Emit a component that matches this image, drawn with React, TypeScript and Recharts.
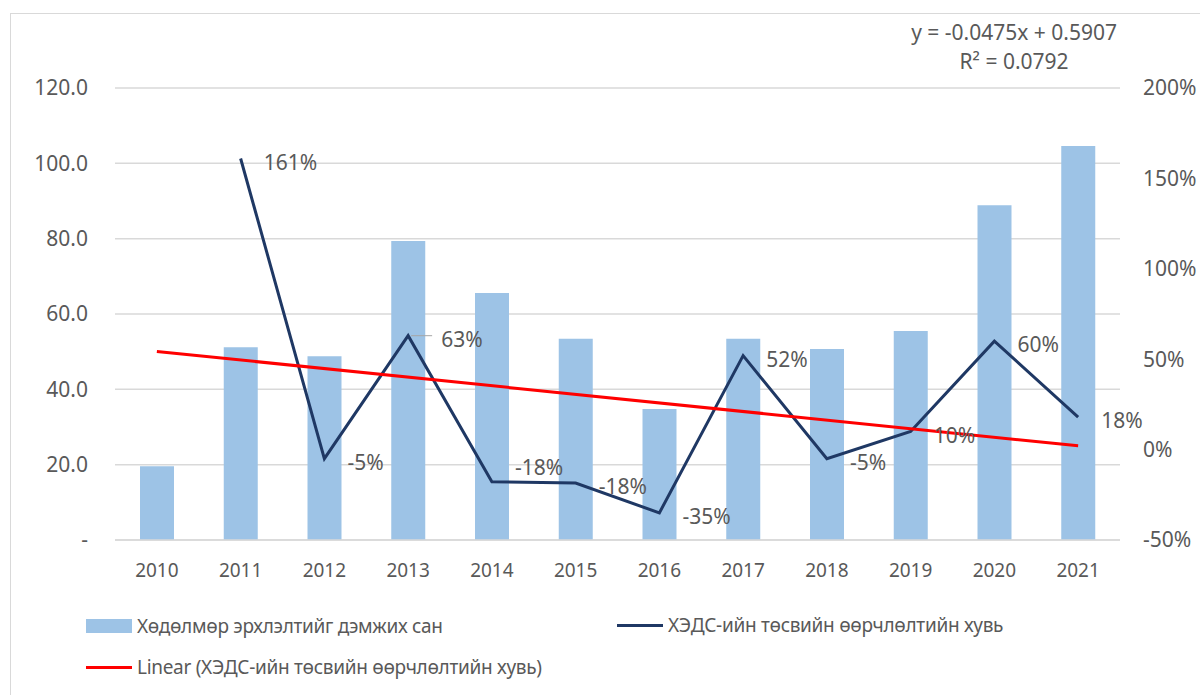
import React from "react";
import {
  ComposedChart,
  Bar,
  Line,
  XAxis,
  YAxis,
  CartesianGrid,
  LabelList,
} from "recharts";

const years = ["2010", "2011", "2012", "2013", "2014", "2015", "2016", "2017", "2018", "2019", "2020", "2021"];
const fundValues = [19.6, 51.2, 48.8, 79.4, 65.6, 53.4, 34.8, 53.4, 50.7, 55.5, 88.9, 104.6];
const changeValues: (number | null)[] = [null, 1.61, -0.05, 0.63, -0.178, -0.185, -0.35, 0.52, -0.05, 0.1, 0.6, 0.18];
const trendValues: (number | null)[] = [0.543, null, null, null, null, null, null, null, null, null, null, 0.021];
const leftTicks = [0, 20, 40, 60, 80, 100, 120];
const rightTicks = [-0.5, 0, 0.5, 1, 1.5, 2];

const fundName = "Хөдөлмөр эрхлэлтийг дэмжих сан";
const changeName = "ХЭДС-ийн төсвийн өөрчлөлтийн хувь";
const trendName = "Linear (ХЭДС-ийн төсвийн өөрчлөлтийн хувь)";
const equationText = "y = -0.0475x + 0.5907";
const r2Text = "R² = 0.0792";

const data = years.map((y, i) => ({
  year: y,
  fund: fundValues[i],
  change: changeValues[i],
  trend: trendValues[i],
}));

const FONT = "'Noto Sans', 'DejaVu Sans', sans-serif";
const TEXT = "#595959";
const BAR = "#9dc3e6";
const NAVY = "#1f3864";
const RED = "#ff0000";
const NUM_SIZE = 21;

const ChangeLabel = (props: any) => {
  const { x, y, value, index } = props;
  if (value == null) return null;
  let dx = 23;
  let dy = 3;
  let leader = false;
  if (index === 3) {
    dx = 33;
    leader = true;
  }
  if (index === 4) {
    dy = -15;
  }
  return (
    <g>
      {leader && <line x1={x + 3} y1={y} x2={x + 24} y2={y} stroke="#a6a6a6" strokeWidth={1} />}
      <text
        x={x + dx}
        y={y + dy}
        fill={TEXT}
        fontSize={NUM_SIZE}
        fontFamily={FONT}
        dominantBaseline="central"
        textAnchor="start"
      >
        {Math.round(value * 100) + "%"}
      </text>
    </g>
  );
};

const legendRow: React.CSSProperties = {
  position: "absolute",
  display: "flex",
  alignItems: "center",
  fontSize: 19,
  letterSpacing: -0.3,
  color: TEXT,
  whiteSpace: "nowrap",
  height: 26,
};

export default function App() {
  return (
    <div style={{ position: "relative", width: 1200, height: 695, overflow: "hidden", background: "#fff", fontFamily: FONT }}>
      <style>{"body{margin:0;overflow:hidden;background:#fff}"}</style>
      <div
        style={{
          position: "absolute",
          left: 10,
          top: 13,
          width: 1220,
          height: 720,
          border: "1px solid #d9d9d9",
          boxSizing: "border-box",
        }}
      />
      <div style={{ position: "absolute", left: 0, top: 0 }}>
        <ComposedChart
          width={1200}
          height={695}
          data={data}
          margin={{ top: 88, right: 20, bottom: 95, left: 55 }}
          barCategoryGap="0%"
        >
          <CartesianGrid yAxisId="left" vertical={false} stroke="#d9d9d9" strokeWidth={1.5} />
          <XAxis
            dataKey="year"
            tickLine={false}
            axisLine={{ stroke: "#d9d9d9", strokeWidth: 1.5 }}
            tickSize={0}
            tickMargin={24}
            height={60}
            interval={0}
            tick={{ fill: TEXT, fontSize: 19, fontFamily: FONT }}
          />
          <YAxis
            yAxisId="left"
            orientation="left"
            domain={[0, 120]}
            ticks={leftTicks}
            tickLine={false}
            axisLine={false}
            tickSize={0}
            tickMargin={27}
            width={60}
            tick={{ fill: TEXT, fontSize: NUM_SIZE, fontFamily: FONT }}
            tickFormatter={(v: number) => (v === 0 ? "-" : v.toFixed(1))}
          />
          <YAxis
            yAxisId="right"
            orientation="right"
            domain={[-0.5, 2]}
            ticks={rightTicks}
            tickLine={false}
            axisLine={false}
            tickSize={0}
            tickMargin={23}
            width={60}
            tick={{ fill: TEXT, fontSize: NUM_SIZE, fontFamily: FONT }}
            tickFormatter={(v: number) => Math.round(v * 100) + "%"}
          />
          <Bar yAxisId="left" dataKey="fund" name={fundName} fill={BAR} barSize={34} isAnimationActive={false} />
          <Line
            yAxisId="right"
            dataKey="change"
            name={changeName}
            stroke={NAVY}
            strokeWidth={3}
            dot={false}
            isAnimationActive={false}
          >
            <LabelList dataKey="change" content={ChangeLabel} />
          </Line>
          <Line
            yAxisId="right"
            dataKey="trend"
            name={trendName}
            stroke={RED}
            strokeWidth={3}
            dot={false}
            connectNulls
            isAnimationActive={false}
          />
        </ComposedChart>
      </div>
      <div
        style={{
          position: "absolute",
          right: 1200 - 1117,
          top: 18,
          fontSize: NUM_SIZE,
          color: TEXT,
          textAlign: "center",
          lineHeight: "29px",
          whiteSpace: "nowrap",
        }}
      >
        <div>{equationText}</div>
        <div>{r2Text}</div>
      </div>
      <div style={{ ...legendRow, left: 86, top: 613 }}>
        <span style={{ display: "inline-block", width: 46, height: 14, background: BAR, marginRight: 5 }} />
        <span>{fundName}</span>
      </div>
      <div style={{ ...legendRow, left: 617, top: 612 }}>
        <span style={{ display: "inline-block", width: 46, height: 3, background: NAVY, marginRight: 5 }} />
        <span>{changeName}</span>
      </div>
      <div style={{ ...legendRow, left: 86, top: 654 }}>
        <span style={{ display: "inline-block", width: 46, height: 3, background: RED, marginRight: 5 }} />
        <span>{trendName}</span>
      </div>
    </div>
  );
}
